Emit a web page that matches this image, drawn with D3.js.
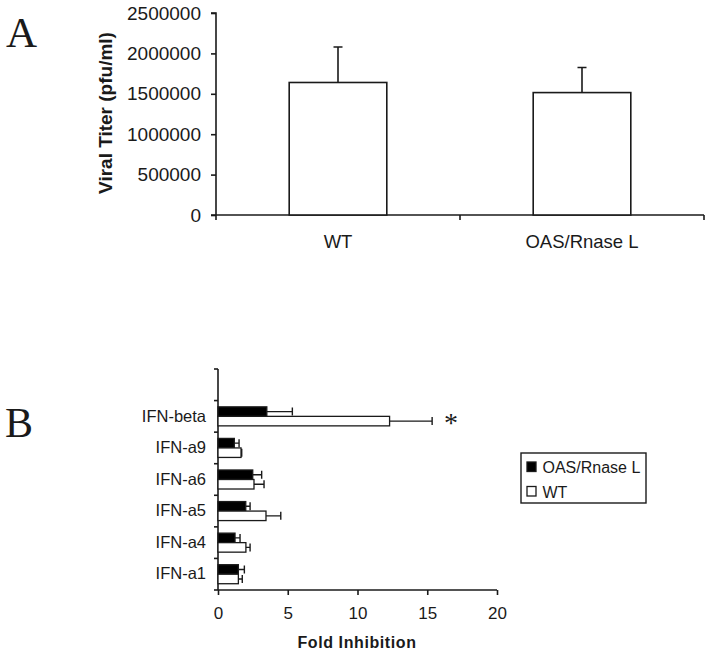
<!DOCTYPE html>
<html>
<head>
<meta charset="utf-8">
<script src="https://cdn.jsdelivr.net/npm/d3@7"></script>
<style>
  html, body { margin: 0; padding: 0; background: #fff; }
  svg { display: block; }
  text { font-family: "Liberation Sans", Arial, sans-serif; fill: #1a1a1a; }
</style>
</head>
<body>
<svg id="chart" width="712" height="656"></svg>
<script>
// ---- Panel A data ----
const categoriesA = ["WT", "OAS/Rnase L"];
const titerMean = [1640000, 1515000];
const titerErr = [440000, 310000];
const ticksA = [0, 500000, 1000000, 1500000, 2000000, 2500000];

// ---- Panel B data ----
const categoriesB = ["IFN-beta", "IFN-a9", "IFN-a6", "IFN-a5", "IFN-a4", "IFN-a1"];
const seriesB = ["OAS/Rnase L", "WT"];
const oasMean = [3.5, 1.17, 2.49, 1.99, 1.22, 1.46];
const oasErr = [1.83, 0.34, 0.64, 0.31, 0.36, 0.43];
const wtMean = [12.3, 1.65, 2.58, 3.44, 2.0, 1.46];
const wtErr = [3.05, 0.05, 0.72, 1.06, 0.3, 0.28];
const ticksB = [0, 5, 10, 15, 20];
const significant = ["IFN-beta"];

const ink = "#1a1a1a";
const svg = d3.select("#chart");

// ================= Panel A =================
const gA = svg.append("g");
const xA = d3.scaleBand().domain(categoriesA).range([216, 704]).paddingInner(0.6).paddingOuter(0.3);
const yA = d3.scaleLinear().domain([0, 2500000]).range([215, 13]);

// y axis
const yAxisA = d3.axisLeft(yA).tickValues(ticksA).tickSize(5).tickPadding(10).tickFormat(d3.format("d"));
const gyA = gA.append("g").attr("transform", "translate(216,0)").call(yAxisA);
gyA.select(".domain").attr("stroke", ink).attr("stroke-width", 1.6).attr("d", "M-5,13H0V215");
gyA.selectAll(".tick line").attr("stroke", ink).attr("stroke-width", 1.6);
gyA.selectAll(".tick text").style("font-size", "19px").attr("fill", ink);

// x axis line with boundary ticks
gA.append("line").attr("x1", 211).attr("x2", 704).attr("y1", 215).attr("y2", 215)
  .attr("stroke", ink).attr("stroke-width", 1.6);
const boundariesA = [xA.range()[0], (xA("WT") + xA.bandwidth() + xA("OAS/Rnase L")) / 2, xA.range()[1]];
gA.selectAll(".xbt").data(boundariesA).join("line")
  .attr("x1", d => d).attr("x2", d => d).attr("y1", 215).attr("y2", 220)
  .attr("stroke", ink).attr("stroke-width", 1.6);

// x labels
const xAxisA = d3.axisBottom(xA).tickSize(0).tickPadding(20);
const gxA = gA.append("g").attr("transform", "translate(0,215)").call(xAxisA);
gxA.select(".domain").remove();
gxA.selectAll(".tick text").style("font-size", "18.5px").attr("fill", ink);

// bars
const dataA = categoriesA.map((c, i) => ({ c, v: titerMean[i], e: titerErr[i] }));
gA.selectAll(".barA").data(dataA).join("rect")
  .attr("x", d => xA(d.c)).attr("width", xA.bandwidth())
  .attr("y", d => yA(d.v)).attr("height", d => yA(0) - yA(d.v))
  .attr("fill", "#fff").attr("stroke", ink).attr("stroke-width", 1.6);
// error bars
gA.selectAll(".errA").data(dataA).join("path")
  .attr("d", d => {
    const cx = xA(d.c) + xA.bandwidth() / 2;
    return `M${cx},${yA(d.v)}V${yA(d.v + d.e)}M${cx - 4.5},${yA(d.v + d.e)}H${cx + 4.5}`;
  })
  .attr("stroke", ink).attr("stroke-width", 1.6).attr("fill", "none");

// y label
gA.append("text")
  .attr("transform", "translate(112,113) rotate(-90)")
  .attr("text-anchor", "middle")
  .style("font-size", "19px").style("font-weight", "bold")
  .text("Viral Titer (pfu/ml)");

// panel letter
svg.append("text").attr("x", 6).attr("y", 47)
  .style("font-family", "'Liberation Serif', 'Times New Roman', serif")
  .style("font-size", "43px").text("A");

// ================= Panel B =================
const gB = svg.append("g");
const yDomainB = [""].concat(categoriesB);
const xB = d3.scaleLinear().domain([0, 20]).range([218, 497]);
const yB = d3.scaleBand().domain(yDomainB).range([369, 590]).padding(0);
const ySub = d3.scaleBand().domain(seriesB).range([0, yB.bandwidth()]).paddingInner(0).paddingOuter(0.66);

// x axis
const xAxisB = d3.axisBottom(xB).tickValues(ticksB).tickSize(5).tickPadding(12);
const gxB = gB.append("g").attr("transform", "translate(0,590)").call(xAxisB);
gxB.select(".domain").attr("stroke", ink).attr("stroke-width", 1.6).attr("d", "M218,0H497");
gxB.selectAll(".tick line").attr("stroke", ink).attr("stroke-width", 1.6);
gxB.selectAll(".tick text").style("font-size", "17px").attr("fill", ink);

// y axis: line + boundary ticks
gB.append("line").attr("x1", 218).attr("x2", 218).attr("y1", 369).attr("y2", 590)
  .attr("stroke", ink).attr("stroke-width", 1.6);
const boundariesB = yDomainB.map(c => yB(c)).concat([yB.range()[1]]);
gB.selectAll(".ybt").data(boundariesB).join("line")
  .attr("x1", 214).attr("x2", 218).attr("y1", d => d).attr("y2", d => d)
  .attr("stroke", ink).attr("stroke-width", 1.6);
// y labels
const yAxisB = d3.axisLeft(yB).tickSize(0).tickPadding(12);
const gyB = gB.append("g").attr("transform", "translate(218,0)").call(yAxisB);
gyB.select(".domain").remove();
gyB.selectAll(".tick text").style("font-size", "16.5px").attr("fill", ink);

// bars
const rowsB = [];
categoriesB.forEach((c, i) => {
  rowsB.push({ c, s: "OAS/Rnase L", v: oasMean[i], e: oasErr[i], fill: "#000" });
  rowsB.push({ c, s: "WT", v: wtMean[i], e: wtErr[i], fill: "#fff" });
});
gB.selectAll(".barB").data(rowsB).join("rect")
  .attr("x", xB(0)).attr("y", d => yB(d.c) + ySub(d.s))
  .attr("width", d => xB(d.v) - xB(0)).attr("height", ySub.bandwidth())
  .attr("fill", d => d.fill).attr("stroke", ink).attr("stroke-width", 1.3);
gB.selectAll(".errB").data(rowsB).join("path")
  .attr("d", d => {
    const cy = yB(d.c) + ySub(d.s) + ySub.bandwidth() / 2;
    return `M${xB(d.v)},${cy}H${xB(d.v + d.e)}M${xB(d.v + d.e)},${cy - 4}V${cy + 4}`;
  })
  .attr("stroke", ink).attr("stroke-width", 1.4).attr("fill", "none");

// significance asterisk
gB.selectAll(".sig").data(significant).join("text")
  .attr("x", 451).attr("y", d => yB(d) + ySub("WT") + ySub.bandwidth() / 2 + 11)
  .attr("text-anchor", "middle")
  .style("font-family", "'Liberation Serif', 'Times New Roman', serif")
  .style("font-size", "28px").text("*");

// x label
gB.append("text").attr("x", 357).attr("y", 648).attr("text-anchor", "middle")
  .style("font-size", "16px").style("font-weight", "bold").style("letter-spacing", "0.6px")
  .text("Fold Inhibition");

// legend
const leg = gB.append("g");
leg.append("rect").attr("x", 521).attr("y", 453).attr("width", 125).attr("height", 50)
  .attr("fill", "#fff").attr("stroke", ink).attr("stroke-width", 1.4);
const legItems = seriesB.map((s, i) => ({ s, fill: i === 0 ? "#000" : "#fff" }));
const li = leg.selectAll(".li").data(legItems).join("g")
  .attr("transform", (d, i) => `translate(527,${462 + i * 24.5})`);
li.append("rect").attr("width", 9).attr("height", 9.5)
  .attr("fill", d => d.fill).attr("stroke", ink).attr("stroke-width", 1.3);
li.append("text").attr("x", 15.5).attr("y", 11).style("font-size", "16px").text(d => d.s);

// panel letter
svg.append("text").attr("x", 5).attr("y", 437)
  .style("font-family", "'Liberation Serif', 'Times New Roman', serif")
  .style("font-size", "42px").text("B");
</script>
</body>
</html>
